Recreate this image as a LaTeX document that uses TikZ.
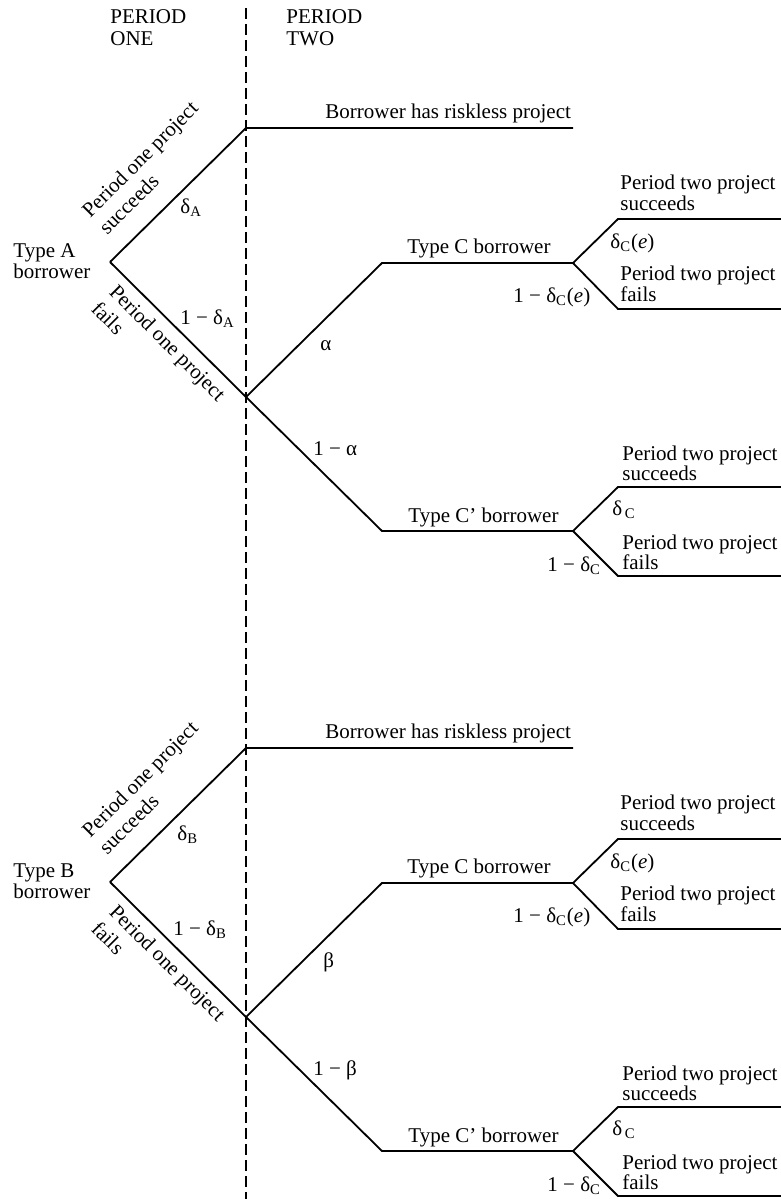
\documentclass[tikz,border=0pt]{standalone}
\usepackage{fontspec}
\setmainfont{Liberation Serif}
\newcommand{\dlt}[1]{δ\textsubscript{#1}}
\tikzset{
  branch/.style={line width=0.9pt, line join=miter},
  divider/.style={line width=0.65pt, dash pattern=on 5.5pt off 2.5pt},
  lbl/.style={inner sep=0pt, anchor=base west, font=\fontsize{10.5}{10.5}\selectfont},
}
\begin{document}
\begin{tikzpicture}[x=0.5pt, y=-0.5pt]
\useasboundingbox (0,0) rectangle (781,1199);
% divider between the periods
\coordinate (dtop) at (246,8);
\coordinate (dbot) at (246,1199);
\draw[divider] (dtop) -- (dbot);
\node[lbl] (h1a) at (110,24) {PERIOD};
\node[lbl] (h1b) at (110,45) {ONE};
\node[lbl] (h2a) at (286,24) {PERIOD};
\node[lbl] (h2b) at (286,45) {TWO};

% ---------- Type A tree ----------
\coordinate (rA) at (110,262);
\coordinate (sA) at (246,128);
\coordinate (sAe) at (573,128);
\coordinate (fA) at (246,397);
\coordinate (cA0) at (382,263);
\coordinate (cA) at (573,263);
\coordinate (cAs) at (618,219);
\coordinate (cAse) at (781,219);
\coordinate (cAf) at (618,309);
\coordinate (cAfe) at (781,309);
\coordinate (pA0) at (382,531);
\coordinate (pA) at (573,531);
\coordinate (pAs) at (618,487);
\coordinate (pAse) at (781,487);
\coordinate (pAf) at (618,576);
\coordinate (pAfe) at (781,576);
\draw[branch] (rA) -- (sA) -- (sAe);
\draw[branch] (rA) -- (fA) -- (cA0) -- (cA);
\draw[branch] (cA) -- (cAs) -- (cAse);
\draw[branch] (cA) -- (cAf) -- (cAfe);
\draw[branch] (fA) -- (pA0) -- (pA);
\draw[branch] (pA) -- (pAs) -- (pAse);
\draw[branch] (pA) -- (pAf) -- (pAfe);

\node[lbl] (tA1) at (13,257) {Type A};
\node[lbl] (tA2) at (13,278) {borrower};
\node[lbl, rotate=45] (sAt1) at (90,219) {Period one project};
\node[lbl, rotate=45] (sAt2) at (107,236) {succeeds};
\node[lbl, rotate=-45] (fAt1) at (108,293) {Period one project};
\node[lbl, rotate=-45] (fAt2) at (90,310) {fails};
\node[lbl] (dA) at (180,213) {\dlt{A}};
\node[lbl] (ndA) at (180,324) {1 − \dlt{A}};
\node[lbl] (rlA) at (325,118) {Borrower has riskless project};
\node[lbl] (al) at (320,350) {α};
\node[lbl] (nal) at (313,455) {1 − α};
\node[lbl] (tCA) at (407,253) {Type C borrower};
\node[lbl] (cAs1) at (620,189) {Period two project};
\node[lbl] (cAs2) at (620,210) {succeeds};
\node[lbl] (dCeA) at (610,248) {\dlt{C}(\textit{e})};
\node[lbl] (cAf1) at (620,280) {Period two project};
\node[lbl] (cAf2) at (620,301) {fails};
\node[lbl] (ndCeA) at (513,302) {1 − \dlt{C}(\textit{e})};
\node[lbl] (tPA) at (408,522) {Type C' borrower};
\node[lbl] (pAs1) at (622,460) {Period two project};
\node[lbl] (pAs2) at (622,480) {succeeds};
\node[lbl] (dCA) at (612,515) {δ\textsubscript{\,C}};
\node[lbl] (pAf1) at (622,549) {Period two project};
\node[lbl] (pAf2) at (622,569) {fails};
\node[lbl] (ndCA) at (547,571) {1 − \dlt{C}};

% ---------- Type B tree ----------
\coordinate (rB) at (110,882);
\coordinate (sB) at (246,748);
\coordinate (sBe) at (573,748);
\coordinate (fB) at (246,1017);
\coordinate (cB0) at (382,883);
\coordinate (cB) at (573,883);
\coordinate (cBs) at (618,839);
\coordinate (cBse) at (781,839);
\coordinate (cBf) at (618,929);
\coordinate (cBfe) at (781,929);
\coordinate (pB0) at (382,1151);
\coordinate (pB) at (573,1151);
\coordinate (pBs) at (618,1107);
\coordinate (pBse) at (781,1107);
\coordinate (pBf) at (618,1196);
\coordinate (pBfe) at (781,1196);
\draw[branch] (rB) -- (sB) -- (sBe);
\draw[branch] (rB) -- (fB) -- (cB0) -- (cB);
\draw[branch] (cB) -- (cBs) -- (cBse);
\draw[branch] (cB) -- (cBf) -- (cBfe);
\draw[branch] (fB) -- (pB0) -- (pB);
\draw[branch] (pB) -- (pBs) -- (pBse);
\draw[branch] (pB) -- (pBf) -- (pBfe);

\node[lbl] (tB1) at (13,877) {Type B};
\node[lbl] (tB2) at (13,898) {borrower};
\node[lbl, rotate=45] (sBt1) at (90,839) {Period one project};
\node[lbl, rotate=45] (sBt2) at (107,856) {succeeds};
\node[lbl, rotate=-45] (fBt1) at (108,913) {Period one project};
\node[lbl, rotate=-45] (fBt2) at (90,930) {fails};
\node[lbl] (dB) at (177,840) {\dlt{B}};
\node[lbl] (ndB) at (173,935) {1 − \dlt{B}};
\node[lbl] (rlB) at (325,738) {Borrower has riskless project};
\node[lbl] (be) at (323,967) {β};
\node[lbl] (nbe) at (313,1075) {1 − β};
\node[lbl] (tCB) at (407,873) {Type C borrower};
\node[lbl] (cBs1) at (620,809) {Period two project};
\node[lbl] (cBs2) at (620,830) {succeeds};
\node[lbl] (dCeB) at (610,868) {\dlt{C}(\textit{e})};
\node[lbl] (cBf1) at (620,900) {Period two project};
\node[lbl] (cBf2) at (620,921) {fails};
\node[lbl] (ndCeB) at (513,922) {1 − \dlt{C}(\textit{e})};
\node[lbl] (tPB) at (408,1142) {Type C' borrower};
\node[lbl] (pBs1) at (622,1080) {Period two project};
\node[lbl] (pBs2) at (622,1100) {succeeds};
\node[lbl] (dCB) at (612,1135) {δ\textsubscript{\,C}};
\node[lbl] (pBf1) at (622,1169) {Period two project};
\node[lbl] (pBf2) at (622,1189) {fails};
\node[lbl] (ndCB) at (547,1191) {1 − \dlt{C}};
\end{tikzpicture}
\end{document}
